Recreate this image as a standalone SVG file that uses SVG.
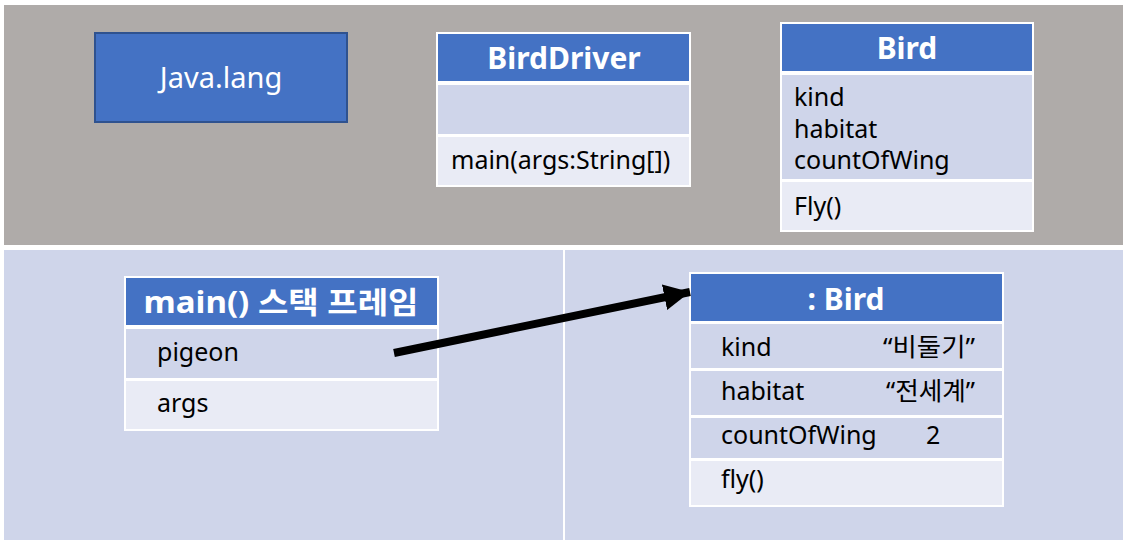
<svg xmlns="http://www.w3.org/2000/svg" width="1127" height="544" viewBox="0 0 1127 544">
<style>
.hdr{fill:#4472C4;stroke:#fff;stroke-width:2}
.r1{fill:#CFD5EA;stroke:#fff;stroke-width:2}
.r2{fill:#E9EBF5;stroke:#fff;stroke-width:2}
.t{font-family:"Noto Sans","Noto Sans CJK KR",sans-serif;font-size:25px;fill:#000}
.h{font-family:"Noto Sans","Noto Sans CJK KR",sans-serif;font-size:30px;font-weight:bold;fill:#fff;text-anchor:middle}
</style>
<defs>
<marker id="ah" markerUnits="userSpaceOnUse" markerWidth="30" markerHeight="30" refX="26" refY="13" orient="auto">
<path d="M0,0 L26,13 L0,26 Z" fill="#000"/>
</marker>
</defs>
<rect x="0" y="0" width="1127" height="544" fill="#fff"/>
<g id="panels">
<rect x="4" y="5" width="1119" height="240" fill="#AFABA9"/>
<rect x="4" y="250" width="559" height="290" fill="#CFD5EA"/>
<rect x="565" y="250" width="558" height="290" fill="#CFD5EA"/>
</g>
<g id="javalang">
<rect x="95" y="33" width="252" height="89" fill="#4472C4" stroke="#2F528F" stroke-width="2"/>
<text x="221" y="88" font-family="Noto Sans, sans-serif" font-size="29" fill="#fff" text-anchor="middle">Java.lang</text>
</g>
<g id="birddriver">
<rect class="hdr" x="437" y="33" width="253" height="49"/>
<rect class="r1" x="437" y="84" width="253" height="51"/>
<rect class="r2" x="437" y="136" width="253" height="50"/>
<text class="h" x="564" y="69">BirdDriver</text>
<text class="t" x="451" y="169">main(args:String[])</text>
</g>
<g id="bird">
<rect class="hdr" x="781" y="23" width="252" height="49"/>
<rect class="r1" x="781" y="74" width="252" height="106"/>
<rect class="r2" x="781" y="181" width="252" height="50"/>
<text class="h" x="907" y="59">Bird</text>
<text class="t" x="794" y="106">kind</text>
<text class="t" x="794" y="138">habitat</text>
<text class="t" x="794" y="169">countOfWing</text>
<text class="t" x="794" y="215">Fly()</text>
</g>
<g id="stackframe">
<rect class="hdr" x="125" y="277" width="313" height="49"/>
<rect class="r1" x="125" y="328" width="313" height="51"/>
<rect class="r2" x="125" y="380" width="313" height="50"/>
<text class="h" x="281" y="313" textLength="275" lengthAdjust="spacingAndGlyphs">main() 스택 프레임</text>
<text class="t" x="157" y="361">pigeon</text>
<text class="t" x="157" y="412">args</text>
</g>
<g id="birdobj">
<rect class="hdr" x="690" y="273" width="313" height="49"/>
<rect class="r1" x="690" y="323" width="313" height="46"/>
<rect class="r1" x="690" y="370" width="313" height="46"/>
<rect class="r1" x="690" y="417" width="313" height="42"/>
<rect class="r2" x="690" y="460" width="313" height="46"/>
<text class="h" x="846" y="310">: Bird</text>
<text class="t" x="721" y="356">kind</text>
<text class="t" x="883" y="356" textLength="92" lengthAdjust="spacingAndGlyphs">“비둘기”</text>
<text class="t" x="721" y="400">habitat</text>
<text class="t" x="886" y="400" textLength="89" lengthAdjust="spacingAndGlyphs">“전세계”</text>
<text class="t" x="721" y="444">countOfWing</text>
<text class="t" x="926" y="444">2</text>
<text class="t" x="721" y="488">fly()</text>
</g>
<g id="connectors">
<line x1="394" y1="353" x2="690" y2="292" stroke="#000" stroke-width="8" marker-end="url(#ah)"/>
</g>
</svg>
